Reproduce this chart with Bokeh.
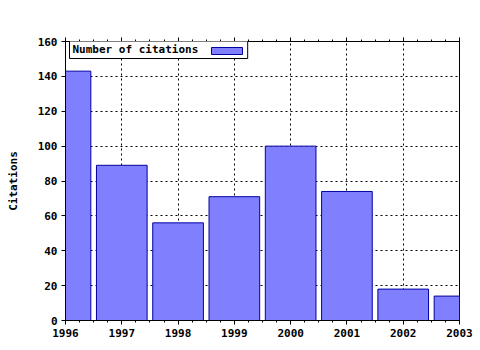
from bokeh.plotting import figure
from bokeh.models import (Range1d, SingleIntervalTicker, LinearAxis, Label,
                          BoxAnnotation, ColumnDataSource, CustomJSTickFormatter)
from bokeh.embed import file_html
from bokeh.resources import INLINE

years = [1996, 1997, 1998, 1999, 2000, 2001, 2002, 2003]
citations = [143, 89, 56, 71, 100, 74, 18, 14]
series_name = "Number of citations"
y_label = "Citations"

FONT = "DejaVu Sans Mono"

src = ColumnDataSource(dict(x=years, top=citations))

p = figure(width=480, height=350, output_backend="svg", toolbar_location=None,
           x_range=Range1d(1996, 2003), y_range=Range1d(0, 160),
           min_border_left=65, min_border_right=21, min_border_top=41,
           min_border_bottom=30)
p.background_fill_color = "white"
p.border_fill_color = "white"
p.outline_line_color = "black"
p.outline_line_width = 1

p.vbar(x="x", top="top", bottom=0, width=0.9, source=src,
       fill_color="#8080ff", line_color="#0000a0", line_width=1)

xt = SingleIntervalTicker(interval=1, num_minor_ticks=4)
yt = SingleIntervalTicker(interval=20, num_minor_ticks=0)
p.xaxis.ticker = xt
p.yaxis.ticker = yt

for ax in (p.xaxis[0], p.yaxis[0]):
    ax.axis_line_color = "black"
    ax.major_tick_line_color = "black"
    ax.minor_tick_line_color = "black"
    ax.major_tick_in = 0
    ax.major_tick_out = 4
    ax.minor_tick_in = 0
    ax.minor_tick_out = 2
    ax.major_label_text_font = FONT
    ax.major_label_text_font_style = "bold"
    ax.major_label_text_font_size = "11px"
    ax.major_label_text_color = "black"
    ax.major_label_standoff = 4

p.yaxis.minor_tick_out = 0
p.yaxis.axis_label = y_label
p.yaxis.axis_label_text_font = FONT
p.yaxis.axis_label_text_font_style = "bold"
p.yaxis.axis_label_text_font_size = "11px"
p.yaxis.axis_label_text_color = "black"
p.yaxis.axis_label_standoff = 15

top_axis = LinearAxis(ticker=SingleIntervalTicker(interval=1, num_minor_ticks=4),
                      formatter=CustomJSTickFormatter(code="return ''"),
                      major_label_text_font_size="11px",
                      major_tick_in=0, major_tick_out=4,
                      minor_tick_in=0, minor_tick_out=2,
                      axis_line_color="black")
p.add_layout(top_axis, "above")

p.xgrid.ticker = xt
p.ygrid.ticker = yt
for g in (p.xgrid[0], p.ygrid[0]):
    g.grid_line_color = "black"
    g.grid_line_dash = "2 3"
    g.grid_line_width = 1

legend_box = Label(x=4, y=262, x_units="screen", y_units="screen",
                   text=series_name + "       ",
                   text_font=FONT, text_font_style="bold", text_font_size="11px",
                   text_color="black",
                   border_line_color="black", border_line_width=1,
                   background_fill_color="white",
                   padding=3)
p.add_layout(legend_box)

swatch = BoxAnnotation(left=146, right=177, bottom=266, top=273,
                       left_units="screen", right_units="screen",
                       top_units="screen", bottom_units="screen",
                       fill_color="#8080ff", fill_alpha=1,
                       line_color="#0000a0", line_width=1, line_alpha=1)
p.add_layout(swatch)

open("out.html", "w").write(file_html(p, INLINE))
